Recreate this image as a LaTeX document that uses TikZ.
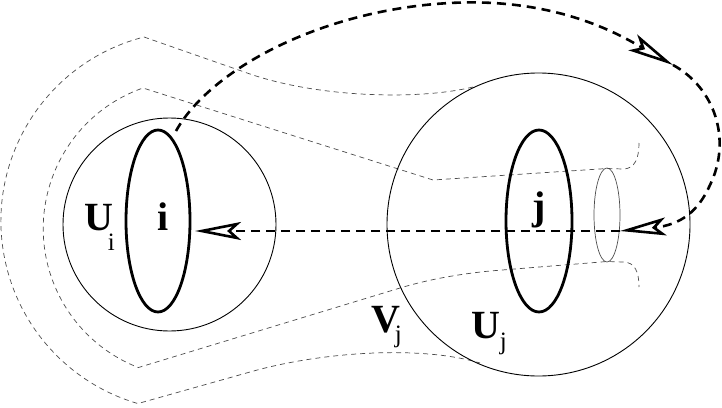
\documentclass[tikz,border=0pt]{standalone}
\usepackage{fontspec}
\setmainfont{Liberation Serif}
\usetikzlibrary{arrows.meta,shapes.geometric}
\begin{document}
\begin{tikzpicture}[x=1pt,y=-1pt,
  thincirc/.style={draw,circle,line width=0.9pt,inner sep=0,outer sep=0},
  boldell/.style={draw,ellipse,line width=2.8pt,inner sep=0,outer sep=0},
  smallell/.style={draw=black!70,ellipse,line width=0.7pt,inner sep=0,outer sep=0},
  outline/.style={draw=black!70,line width=0.7pt,dash pattern=on 5pt off 4pt},
  flowdash/.style={draw,line width=2.6pt,dash pattern=on 9pt off 6pt},
  tipstyle/.style={-{Stealth[open,length=46pt,width=18pt,inset=10pt]}},
  big/.style={font=\fontsize{40}{40}\selectfont\bfseries,inner sep=0,anchor=base west},
  sub/.style={font=\fontsize{25}{25}\selectfont,inner sep=0,anchor=base west}]
\useasboundingbox (0,0) rectangle (722,407);
% region boundaries
\draw[outline] (473,87) .. controls (420,100) and (320,98) .. (250,74) -- (144,37)
  arc[start angle=104.3, end angle=253.8, radius=190pt]
  -- (250,372) .. controls (320,352) and (420,345) .. (480,363);
\draw[outline] (639,143) .. controls (639,158) and (635,169) .. (623,169) -- (607,168.5) -- (433,180) -- (143,88)
  arc[start angle=109.3, end angle=248.8, radius=149pt]
  -- (400,288) .. controls (430,279) and (460,274) .. (490,271) -- (607,261.5) -- (623,262)
  .. controls (635,262) and (639,272) .. (639,287);
% circles and ellipses
\node[thincirc,minimum size=213pt] (Ci) at (169.5,224.5) {};
\node[thincirc,minimum size=303pt] (Cj) at (538.5,224.5) {};
\node[boldell,minimum width=64pt,minimum height=182pt] (Ei) at (158,221) {};
\node[boldell,minimum width=66pt,minimum height=182pt] (Ej) at (539,221) {};
\node[smallell,minimum width=26pt,minimum height=94pt] (Es) at (607,215) {};
% flow arrows
\coordinate (s0) at (176,131);
\coordinate (t1) at (673,65);
\coordinate (t2) at (620,231);
\coordinate (t3) at (195,231);
\draw[flowdash,tipstyle] (s0) .. controls (210,70) and (320,10) .. (450,3)
  .. controls (560,-3) and (625,38) .. (t1);
\draw[flowdash,tipstyle] (t1) .. controls (715,88) and (732,140) .. (710,185)
  .. controls (698,212) and (680,225) .. (t2);
\draw[flowdash,tipstyle] (t2) -- (t3);
% labels
\node[big] (Li) at (157.4,230) {i};
\node[big] (Lj) at (532.3,219) {j};
\node[big] (LUi) at (84.4,230) {U};
\node[sub] (LUis) at (107.6,250) {i};
\node[big] (LV) at (371.4,332) {V};
\node[sub] (LVs) at (394.75,342.5) {j};
\node[big] (LUj) at (471.4,338) {U};
\node[sub] (LUjs) at (499.75,349.5) {j};
\end{tikzpicture}
\end{document}
